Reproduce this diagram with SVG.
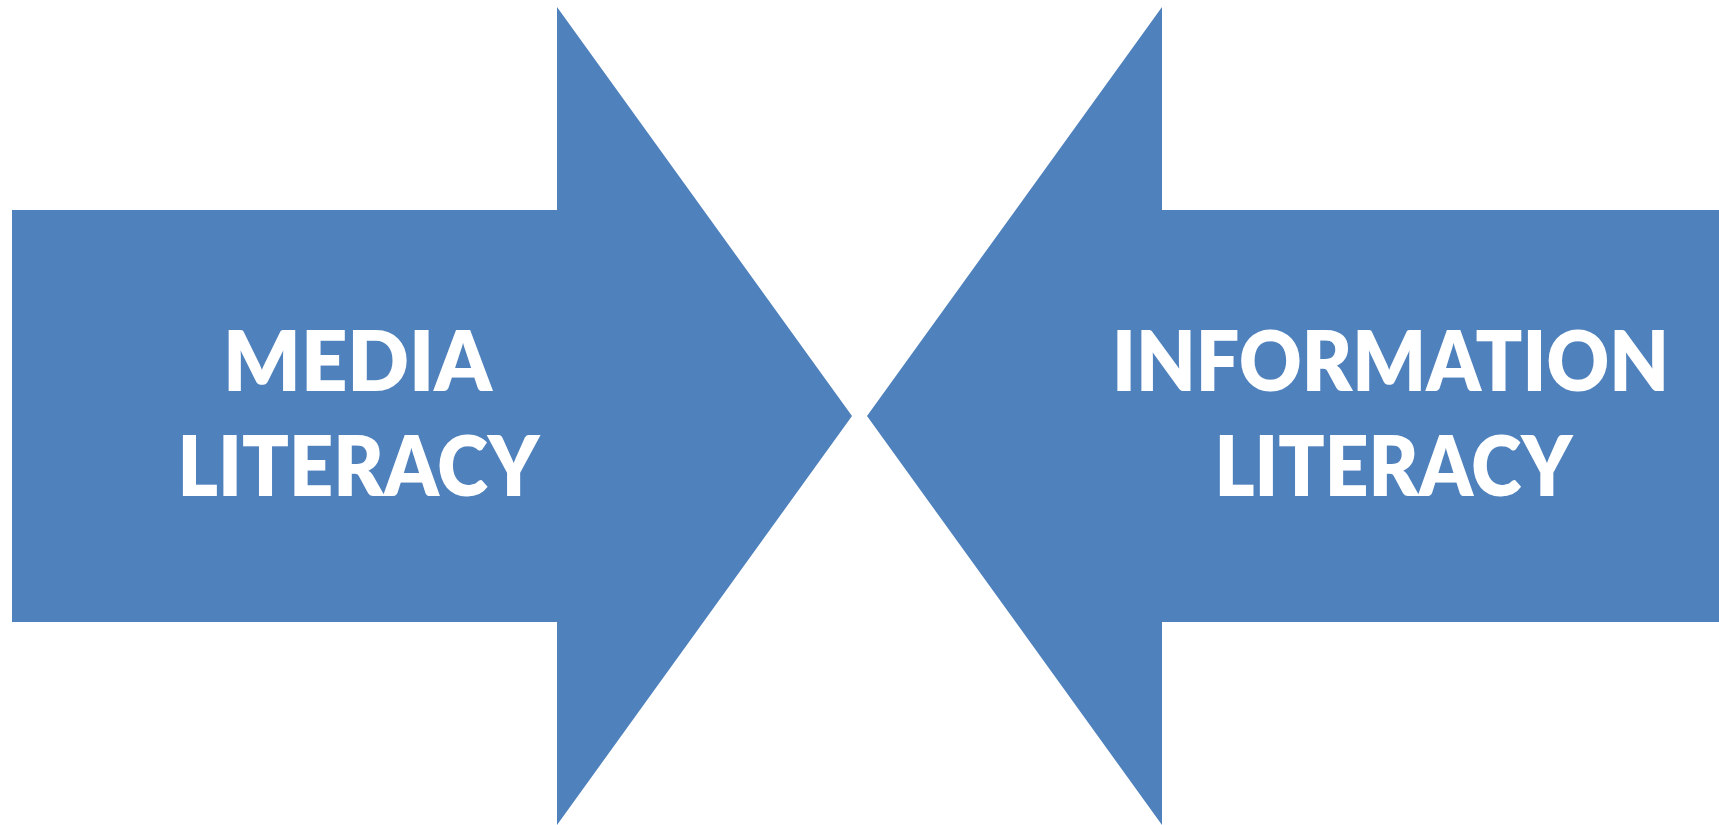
<svg xmlns="http://www.w3.org/2000/svg" width="1719" height="825" viewBox="0 0 1719 825">
  <style>
    .arrow { fill: #4F81BD; }
    .label { fill: #FFFFFF; font-family: "Lato", "Open Sans", "Liberation Sans", sans-serif; font-weight: 800; font-size: 84px; text-anchor: middle; }
  </style>
  <rect x="0" y="0" width="1719" height="825" fill="#FFFFFF"/>

  <!-- Right-pointing block arrow -->
  <g id="media-literacy">
    <polygon class="arrow" points="12,210 557,210 557,7 852,416 557,825 557,622 12,622"/>
    <text class="label" x="357.5" y="391" textLength="269" lengthAdjust="spacingAndGlyphs">MEDIA</text>
    <text class="label" x="358.5" y="496" textLength="362" lengthAdjust="spacingAndGlyphs">LITERACY</text>
  </g>

  <!-- Left-pointing block arrow -->
  <g id="information-literacy">
    <polygon class="arrow" points="1719,210 1162,210 1162,7 867,416 1162,825 1162,622 1719,622"/>
    <text class="label" x="1390.5" y="391" textLength="557" lengthAdjust="spacingAndGlyphs">INFORMATION</text>
    <text class="label" x="1393.5" y="496" textLength="358" lengthAdjust="spacingAndGlyphs">LITERACY</text>
  </g>

  <g id="connectors"/>
</svg>
